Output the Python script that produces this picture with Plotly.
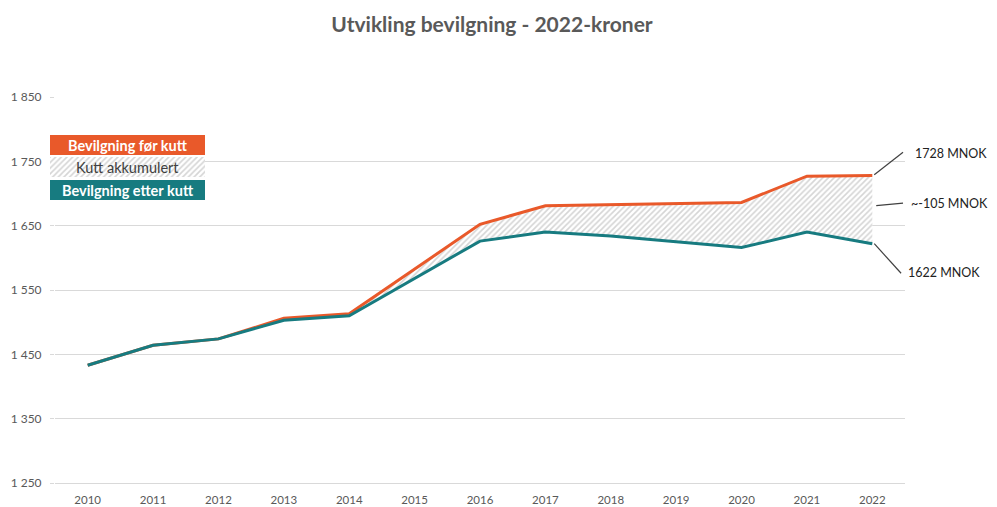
import plotly.graph_objects as go

years = [2010, 2011, 2012, 2013, 2014, 2015, 2016, 2017, 2018, 2019, 2020, 2021, 2022]
bevilgning_for_kutt = [1433, 1464, 1474, 1506, 1513, 1582, 1652, 1681, 1683, 1684, 1686, 1727, 1728]
bevilgning_etter_kutt = [1433, 1464, 1474, 1503, 1510, 1568, 1626, 1640, 1634, 1625, 1616, 1640, 1622]
y_ticks = [1250, 1350, 1450, 1550, 1650, 1750, 1850]
y_ticktext = ["1 250", "1 350", "1 450", "1 550", "1 650", "1 750", "1 850"]

ORANGE = "#E9592A"
TEAL = "#177B80"
FONT = "Lato"
HATCH = dict(shape="/", fgcolor="#ABABAB", bgcolor="white", size=4, solidity=0.4)

# page body has an 8px margin: design in target pixels, shift by OFF
OFF = 8
W, H = 997 - 2 * OFF, 507 - OFF
PL, PR, PT, PB = 55, 905, 97, 483  # plot area in target pixels
L = 48 - OFF
R = W - (PR - OFF)
T = PT - OFF
B = H - (PB - OFF)
pw = W - L - R
ph = H - T - B


def px_x(px):
    return (px - OFF - L) / pw


def px_y(py):
    return (H - B - (py - OFF)) / ph


fig = go.Figure()

fig.add_trace(go.Scatter(x=years, y=bevilgning_etter_kutt, mode="lines",
                         line=dict(width=0, color=TEAL), showlegend=False, hoverinfo="skip"))
fig.add_trace(go.Scatter(x=years, y=bevilgning_for_kutt, mode="lines",
                         line=dict(width=3, color=ORANGE), fill="tonexty",
                         fillcolor="rgba(0,0,0,0)", fillpattern=HATCH,
                         name="Bevilgning før kutt", showlegend=False))
fig.add_trace(go.Scatter(x=years, y=bevilgning_etter_kutt, mode="lines",
                         line=dict(width=3, color=TEAL),
                         name="Bevilgning etter kutt", showlegend=False))

# hatched legend swatch on overlay axes
fig.add_trace(go.Scatter(x=[0, 1, 1, 0, 0], y=[0, 0, 1, 1, 0], mode="lines",
                         line=dict(width=0), fill="toself", fillcolor="rgba(0,0,0,0)",
                         fillpattern=HATCH,
                         xaxis="x2", yaxis="y2", showlegend=False, hoverinfo="skip"))

fig.update_layout(
    width=W, height=H,
    margin=dict(l=L, r=R, t=T, b=B, autoexpand=False),
    paper_bgcolor="white", plot_bgcolor="white",
    font=dict(family=FONT, color="#595959"),
    title=dict(text="<b>Utvikling bevilgning - 2022-kroner</b>", x=(492 - OFF) / W, xanchor="center",
               y=1 - (25 - OFF) / H, yanchor="middle", yref="container",
               font=dict(size=21, color="#595959", family=FONT)),
    xaxis=dict(domain=[px_x(PL), 1], range=[2009.5, 2022.5], tickmode="array", tickvals=years,
               ticktext=[str(y) for y in years], showgrid=False, zeroline=False,
               showline=True, linecolor="#D9D9D9", tickfont=dict(size=11.5, color="#595959"),
               ticks="", ticklabelstandoff=6, automargin=False),
    yaxis=dict(range=[1250, 1850], tickvals=y_ticks, ticktext=y_ticktext, showgrid=True,
               gridcolor="#D9D9D9", gridwidth=1, zeroline=False, showline=False,
               tickfont=dict(size=12, color="#595959"), ticks="outside", ticklen=4,
               tickcolor="#D9D9D9", ticklabelstandoff=6, automargin=False),
    xaxis2=dict(domain=[px_x(50), px_x(205)], range=[0, 1], visible=False, fixedrange=True,
                anchor="y2", automargin=False),
    yaxis2=dict(domain=[px_y(177), px_y(157)], range=[0, 1], visible=False, fixedrange=True,
                anchor="x2", automargin=False),
    showlegend=False,
)

# legend boxes
fig.add_shape(type="rect", xref="paper", yref="paper", x0=px_x(50), x1=px_x(205),
              y0=px_y(155), y1=px_y(135), fillcolor=ORANGE, line=dict(width=0))
fig.add_shape(type="rect", xref="paper", yref="paper", x0=px_x(50), x1=px_x(205),
              y0=px_y(200), y1=px_y(180), fillcolor=TEAL, line=dict(width=0))
for text, yc, col in [("<b>Bevilgning før kutt</b>", 145, "white"),
                      ("Kutt akkumulert", 167, "#404040"),
                      ("<b>Bevilgning etter kutt</b>", 190, "white")]:
    fig.add_annotation(xref="paper", yref="paper", x=px_x(127.5), y=px_y(yc), text=text,
                       xanchor="center", yanchor="middle", showarrow=False,
                       font=dict(size=14.5, color=col, family=FONT))

# leader lines
last_before = bevilgning_for_kutt[-1]
last_after = bevilgning_etter_kutt[-1]
mid = (last_before + last_after) / 2
fig.add_shape(type="line", xref="x", yref="y", x0=2022.03, y0=last_before + 1, x1=2022.47, y1=1764,
              line=dict(color="#404040", width=1.2))
fig.add_shape(type="line", xref="x", yref="y", x0=2022.06, y0=mid + 6, x1=2022.47, y1=mid + 10,
              line=dict(color="#404040", width=1.2))
fig.add_shape(type="line", xref="x", yref="y", x0=2022.03, y0=last_after, x1=2022.44, y1=1576,
              line=dict(color="#404040", width=1.2))

for text, xl, yc in [(f"{last_before} MNOK", 913, 153),
                     ("~-105 MNOK", 909, 203),
                     (f"{last_after} MNOK", 906, 272)]:
    fig.add_annotation(xref="paper", yref="paper", x=px_x(xl), y=px_y(yc), xanchor="left",
                       yanchor="middle", text=text, showarrow=False,
                       font=dict(size=12.5, color="#222222", family=FONT))

fig.write_html("out.html")
